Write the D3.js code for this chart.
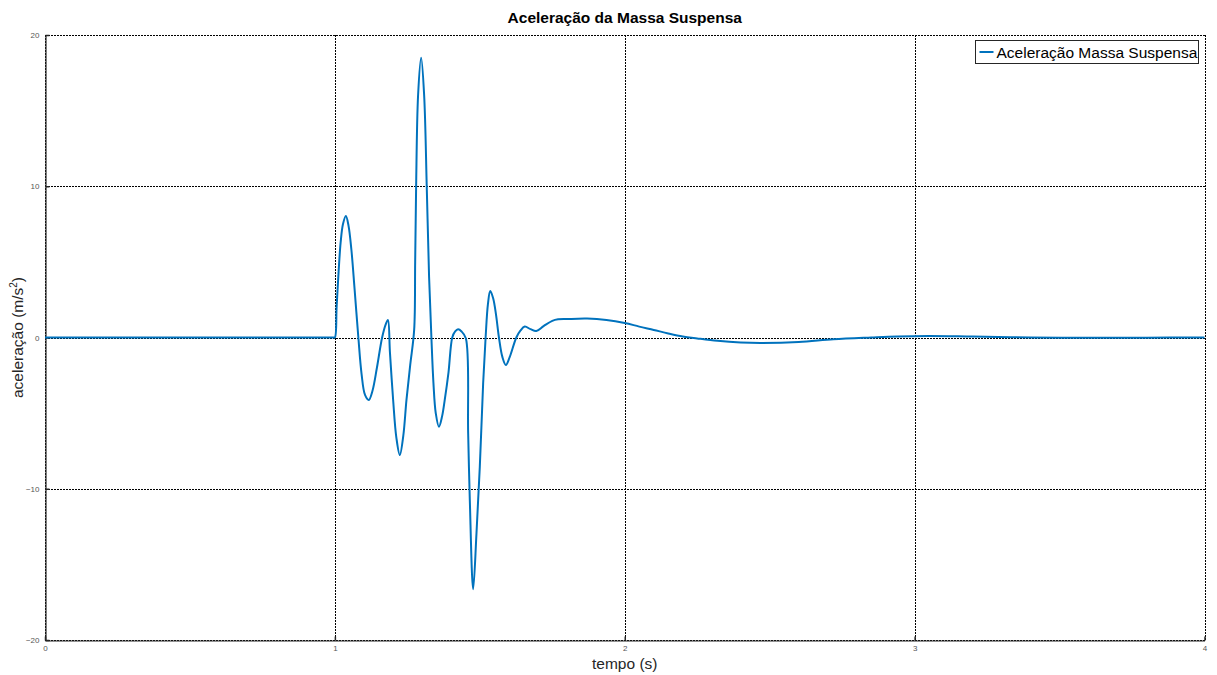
<!DOCTYPE html>
<html>
<head>
<meta charset="utf-8">
<script src="https://cdn.jsdelivr.net/npm/d3@7"></script>
<style>
  html, body { margin: 0; padding: 0; background: #fff; }
  svg { display: block; font-family: "Liberation Sans", Arial, Helvetica, sans-serif; }
</style>
</head>
<body>
<svg id="chart" width="1217" height="675"></svg>
<script>
// Sprung-mass acceleration response (time in s, acceleration in m/s²)
const tempo = [
  0, 0.5, 0.95, 0.995, 1.0, 1.006, 1.013, 1.02, 1.028, 1.038, 1.047, 1.057, 1.068,
  1.081, 1.092, 1.104, 1.117, 1.13, 1.145, 1.163, 1.176, 1.183, 1.19, 1.201,
  1.212, 1.224, 1.236, 1.247, 1.26, 1.2735, 1.277, 1.2803, 1.287, 1.2976, 1.308,
  1.3169, 1.325, 1.333, 1.34, 1.348, 1.359, 1.37, 1.379, 1.392, 1.405, 1.415,
  1.425, 1.437, 1.4517, 1.4598, 1.4655, 1.477, 1.4885, 1.5, 1.5115, 1.52, 1.528,
  1.536, 1.546, 1.556, 1.566, 1.578, 1.59, 1.603, 1.626, 1.64, 1.655, 1.675,
  1.695, 1.72, 1.75, 1.77, 1.8, 1.87, 1.937, 2.0, 2.05, 2.1, 2.15, 2.2, 2.25,
  2.32, 2.4, 2.47, 2.6, 2.72, 2.85, 2.94, 3.05, 3.2, 3.4, 3.6, 3.8, 4.0
];
const aceleracao = [
  0, 0, 0, 0, 0, 2.0, 4.4, 6.3, 7.5, 8.03, 7.4, 5.8, 3.2,
  0, -2.4, -3.8, -4.13, -3.5, -2.0, 0, 0.9, 1.16, -1.0, -4.13,
  -6.6, -7.77, -6.5, -4.13, -1.8, 0.5, 5.0, 10, 16, 18.5, 16,
  10, 4.0, 0, -3.0, -5.0, -5.9, -5.2, -4.13, -2.3, 0, 0.4,
  0.54, 0.4, -0.05, -6.33, -10.74, -16.65, -12.95, -8.54, -3.03, 0, 2.2,
  3.07, 2.6, 1.5, 0, -1.3, -1.82, -1.3, 0, 0.45, 0.72, 0.55,
  0.43, 0.75, 1.1, 1.2, 1.22, 1.25, 1.16, 0.96, 0.72, 0.5, 0.27, 0.07, -0.06,
  -0.22, -0.33, -0.36, -0.3, -0.12, 0.0, 0.07, 0.1, 0.06, 0.0, -0.02, -0.01, 0
];
const xTicks = [0, 1, 2, 3, 4];
const yTicks = [-20, -10, 0, 10, 20];
const titulo = "Aceleração da Massa Suspensa";
const rotuloX = "tempo (s)";
const legenda = "Aceleração Massa Suspensa";

const data = tempo.map((t, i) => ({ t, a: aceleracao[i] }));

const svg = d3.select("#chart");
const margin = { left: 45, top: 35, right: 12.5, bottom: 35 };
const W = 1217, H = 675;
const x0 = margin.left, x1 = W - margin.right;
const y0 = margin.top, y1 = H - margin.bottom;

const x = d3.scaleLinear().domain([0, 4]).range([x0, x1]);
const y = d3.scaleLinear().domain([-20, 20]).range([y1, y0]);

// dotted grid
const grid = svg.append("g").attr("stroke", "#000").attr("stroke-width", 1)
  .attr("stroke-dasharray", "1.5,1.5").attr("shape-rendering", "crispEdges");
xTicks.forEach(v => {
  grid.append("line").attr("x1", Math.round(x(v)) + 0.5).attr("x2", Math.round(x(v)) + 0.5)
    .attr("y1", y0).attr("y2", y1);
});
yTicks.forEach(v => {
  grid.append("line").attr("x1", x0).attr("x2", x1)
    .attr("y1", Math.round(y(v)) + 0.5).attr("y2", Math.round(y(v)) + 0.5);
});

// axes
const xAxis = d3.axisBottom(x).tickValues(xTicks).tickSizeInner(-4).tickSizeOuter(0).tickPadding(9)
  .tickFormat(d3.format("d"));
const yAxis = d3.axisLeft(y).tickValues(yTicks).tickSizeInner(-4).tickSizeOuter(0).tickPadding(9)
  .tickFormat(d3.format("d"));

const gx = svg.append("g").attr("transform", `translate(0,${Math.round(y1) + 0.5})`).call(xAxis);
const gy = svg.append("g").attr("transform", `translate(${Math.round(x0) + 0.5},0)`).call(yAxis);
[gx, gy].forEach(g => {
  g.select(".domain").attr("stroke", "#262626").attr("stroke-width", 1.2);
  g.selectAll(".tick line").attr("stroke", "#262626").attr("stroke-width", 1.5);
  g.selectAll(".tick text").attr("fill", "#555").attr("font-size", 8)
    .attr("font-family", "Liberation Sans, Arial, sans-serif");
});
gy.selectAll(".tick text").attr("dx", "3");
gx.selectAll(".tick text").attr("dy", "0.2em");

// response curve
const line = d3.line()
  .x(d => x(d.t))
  .y(d => y(d.a))
  .curve(d3.curveCatmullRom.alpha(0.5));

svg.append("path")
  .datum(data)
  .attr("fill", "none")
  .attr("stroke", "#0072BD")
  .attr("stroke-width", 2)
  .attr("stroke-linejoin", "round")
  .attr("d", line);

// title and axis labels
svg.append("text").attr("x", (x0 + x1) / 2).attr("y", 23)
  .attr("text-anchor", "middle").attr("font-size", 15.5).attr("font-weight", "bold")
  .attr("fill", "#000").text(titulo);

svg.append("text").attr("x", (x0 + x1) / 2).attr("y", 669)
  .attr("text-anchor", "middle").attr("font-size", 15.5).attr("fill", "#262626").text(rotuloX);

const yl = svg.append("text")
  .attr("transform", `translate(23,${(y0 + y1) / 2}) rotate(-90)`)
  .attr("text-anchor", "middle").attr("font-size", 15.5).attr("fill", "#262626");
yl.append("tspan").text("aceleração (m/s");
yl.append("tspan").attr("font-size", 10).attr("dy", -6).text("2");
yl.append("tspan").attr("dy", 6).text(")");

// legend
const lg = svg.append("g");
const lgX = 975.5, lgY = 40.5, lgW = 223, lgH = 23;
lg.append("rect").attr("x", lgX).attr("y", lgY).attr("width", lgW).attr("height", lgH)
  .attr("fill", "#fff").attr("stroke", "#262626").attr("stroke-width", 1);
lg.append("line").attr("x1", lgX + 4).attr("x2", lgX + 18)
  .attr("y1", lgY + lgH / 2).attr("y2", lgY + lgH / 2)
  .attr("stroke", "#0072BD").attr("stroke-width", 2);
lg.append("text").attr("x", lgX + 21).attr("y", lgY + lgH / 2 + 5.5)
  .attr("font-size", 15.5).attr("fill", "#000").text(legenda);
</script>
</body>
</html>
